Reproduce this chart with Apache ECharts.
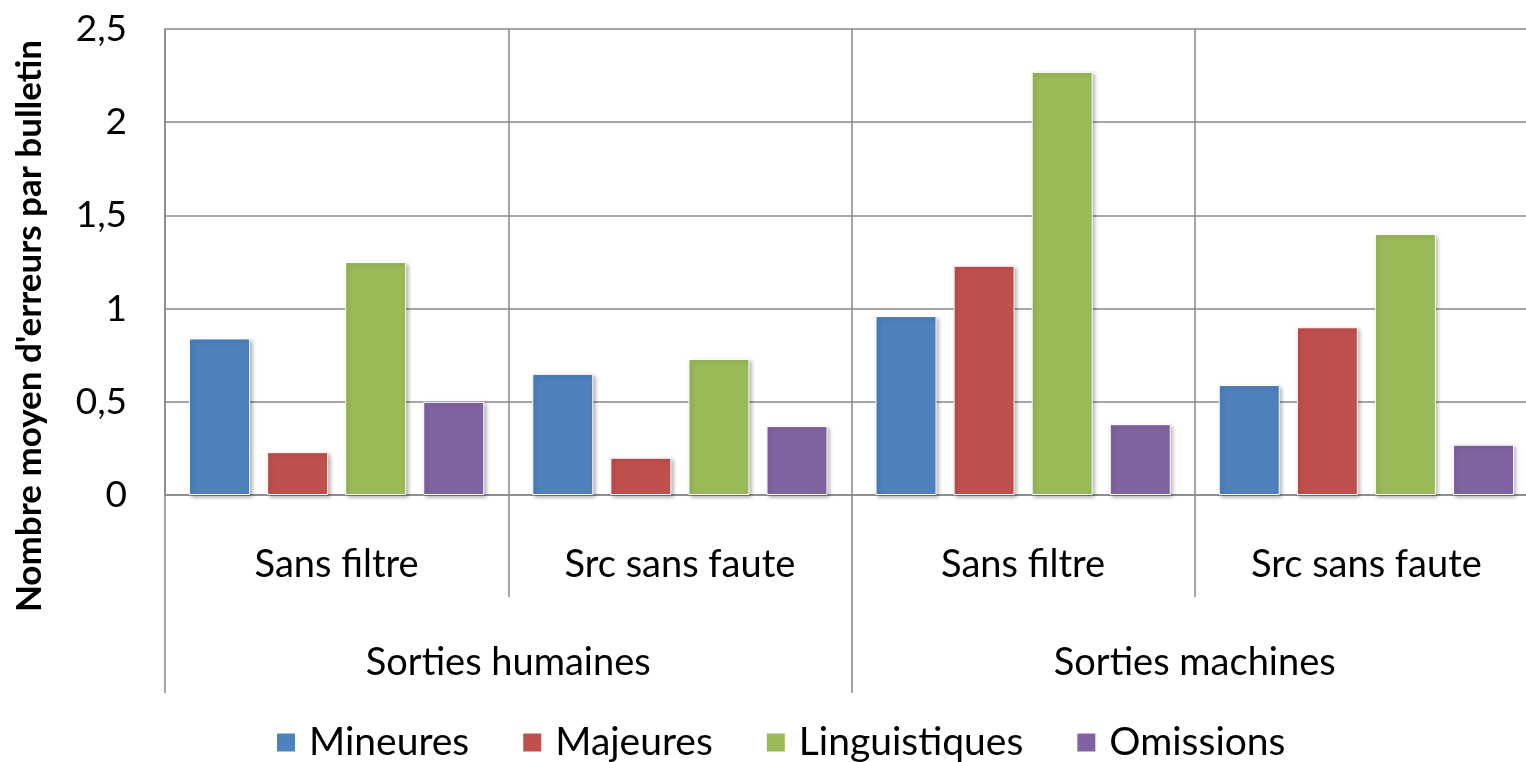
<!DOCTYPE html>
<html><head><meta charset="utf-8">
<script src="https://cdn.jsdelivr.net/npm/echarts@6/dist/echarts.min.js"></script>
<style>html,body{margin:0;padding:0;background:#fff;overflow:hidden}#c{width:1540px;height:762px}</style>
</head><body><div id="c"></div>
<script>
const subCategories = ['Sans filtre', 'Src sans faute', 'Sans filtre', 'Src sans faute'];
const groupCategories = ['Sorties humaines', 'Sorties machines'];
const seriesNames = ['Mineures', 'Majeures', 'Linguistiques', 'Omissions'];
const mineures = [0.84, 0.65, 0.96, 0.59];
const majeures = [0.23, 0.20, 1.23, 0.90];
const linguistiques = [1.25, 0.73, 2.27, 1.40];
const omissions = [0.50, 0.37, 0.38, 0.27];
const yTitle = "Nombre moyen d'erreurs par bulletin";

const colors = ['#4F81BD', '#C0504D', '#9BBB59', '#8064A2'];
const values = [mineures, majeures, linguistiques, omissions];
const FONT = 'Lato';
const gridColor = '#888888';

const chart = echarts.init(document.getElementById('c'), null, {renderer: 'canvas'});
chart.setOption({
  animation: false,
  color: colors,
  textStyle: {fontFamily: FONT},
  grid: {left: 165, top: 29, width: 1373, height: 466, containLabel: false},
  legend: {
    data: seriesNames, left: 270, top: 718, itemWidth: 20, itemHeight: 20, itemGap: 52,
    icon: 'rect',
    textStyle: {fontFamily: FONT, fontSize: 39, color: '#000', padding: [0, 0, 0, 8]}
  },
  xAxis: [
    {
      type: 'category', data: subCategories, position: 'bottom',
      axisLine: {show: true, lineStyle: {color: gridColor, width: 1.5}},
      axisTick: {show: true, length: 102, lineStyle: {color: gridColor, width: 1.5}},
      splitLine: {show: true, lineStyle: {color: gridColor, width: 1.5}},
      axisLabel: {fontFamily: FONT, fontSize: 38, color: '#000', margin: 51}
    },
    {
      type: 'category', data: groupCategories, position: 'bottom',
      axisLine: {show: false},
      axisTick: {show: true, length: 198, lineStyle: {color: gridColor, width: 1.5}},
      axisLabel: {fontFamily: FONT, fontSize: 38, color: '#000', margin: 149}
    }
  ],
  yAxis: {
    type: 'value', min: 0, max: 2.5, interval: 0.5,
    axisLine: {show: true, lineStyle: {color: gridColor, width: 1.5}},
    axisTick: {show: false},
    splitLine: {show: true, lineStyle: {color: gridColor, width: 1.5}},
    axisLabel: {fontFamily: FONT, fontSize: 37, color: '#000', margin: 38,
      formatter: v => String(v).replace('.', ',')}
  },
  graphic: [{
    type: 'text', x: 30, y: 326, rotation: Math.PI / 2,
    style: {text: yTitle, fontFamily: FONT, fontSize: 35, fontWeight: 'bold', fill: '#000',
      align: 'center', verticalAlign: 'middle'}
  }],
  series: seriesNames.map((n, i) => ({
    name: n, type: 'bar', xAxisIndex: 0, data: values[i],
    barWidth: 61, barGap: '28%',
    itemStyle: {color: colors[i], borderColor: '#fff', borderWidth: 1,
      shadowBlur: 4, shadowColor: 'rgba(0,0,0,0.3)', shadowOffsetX: 2, shadowOffsetY: 2}
  }))
});
</script></body></html>
